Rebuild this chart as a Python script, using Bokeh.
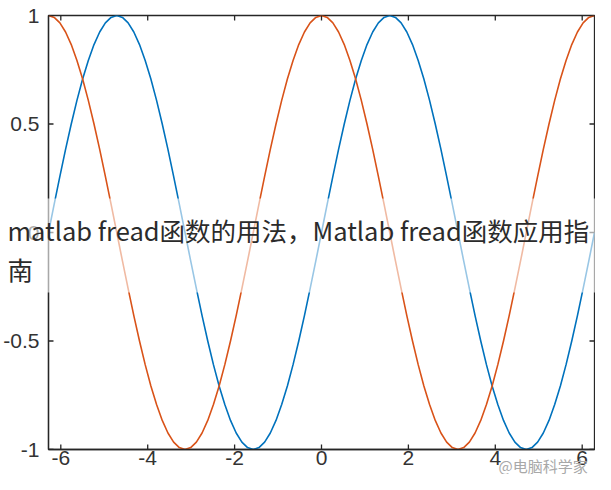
from bokeh.plotting import figure
from bokeh.models import Range1d, FixedTicker, Label, BoxAnnotation, GridBox
from bokeh.embed import file_html
from bokeh.resources import INLINE
import math

# ---- data ----
angles_deg = [-360, -352.5, -345, -337.5, -330, -322.5, -315, -307.5, -300, -292.5, -285, -277.5,
              -270, -262.5, -255, -247.5, -240, -232.5, -225, -217.5, -210, -202.5, -195, -187.5,
              -180, -172.5, -165, -157.5, -150, -142.5, -135, -127.5, -120, -112.5, -105, -97.5,
              -90, -82.5, -75, -67.5, -60, -52.5, -45, -37.5, -30, -22.5, -15, -7.5,
              0, 7.5, 15, 22.5, 30, 37.5, 45, 52.5, 60, 67.5, 75, 82.5,
              90, 97.5, 105, 112.5, 120, 127.5, 135, 142.5, 150, 157.5, 165, 172.5,
              180, 187.5, 195, 202.5, 210, 217.5, 225, 232.5, 240, 247.5, 255, 262.5,
              270, 277.5, 285, 292.5, 300, 307.5, 315, 322.5, 330, 337.5, 345, 352.5, 360]
sin_values = [0, 0.131, 0.259, 0.383, 0.5, 0.609, 0.707, 0.793, 0.866, 0.924, 0.966, 0.991,
              1, 0.991, 0.966, 0.924, 0.866, 0.793, 0.707, 0.609, 0.5, 0.383, 0.259, 0.131,
              0, -0.131, -0.259, -0.383, -0.5, -0.609, -0.707, -0.793, -0.866, -0.924, -0.966, -0.991,
              -1, -0.991, -0.966, -0.924, -0.866, -0.793, -0.707, -0.609, -0.5, -0.383, -0.259, -0.131,
              0, 0.131, 0.259, 0.383, 0.5, 0.609, 0.707, 0.793, 0.866, 0.924, 0.966, 0.991,
              1, 0.991, 0.966, 0.924, 0.866, 0.793, 0.707, 0.609, 0.5, 0.383, 0.259, 0.131,
              0, -0.131, -0.259, -0.383, -0.5, -0.609, -0.707, -0.793, -0.866, -0.924, -0.966, -0.991,
              -1, -0.991, -0.966, -0.924, -0.866, -0.793, -0.707, -0.609, -0.5, -0.383, -0.259, -0.131, 0]
cos_values = [1, 0.991, 0.966, 0.924, 0.866, 0.793, 0.707, 0.609, 0.5, 0.383, 0.259, 0.131,
              0, -0.131, -0.259, -0.383, -0.5, -0.609, -0.707, -0.793, -0.866, -0.924, -0.966, -0.991,
              -1, -0.991, -0.966, -0.924, -0.866, -0.793, -0.707, -0.609, -0.5, -0.383, -0.259, -0.131,
              0, 0.131, 0.259, 0.383, 0.5, 0.609, 0.707, 0.793, 0.866, 0.924, 0.966, 0.991,
              1, 0.991, 0.966, 0.924, 0.866, 0.793, 0.707, 0.609, 0.5, 0.383, 0.259, 0.131,
              0, -0.131, -0.259, -0.383, -0.5, -0.609, -0.707, -0.793, -0.866, -0.924, -0.966, -0.991,
              -1, -0.991, -0.966, -0.924, -0.866, -0.793, -0.707, -0.609, -0.5, -0.383, -0.259, -0.131,
              0, 0.131, 0.259, 0.383, 0.5, 0.609, 0.707, 0.793, 0.866, 0.924, 0.966, 0.991, 1]
x_tick_values = [-6, -4, -2, 0, 2, 4, 6]
x_tick_labels = ["-6", "-4", "-2", "0", "2", "4", "6"]
y_tick_values = [-1, -0.5, 0, 0.5, 1]
y_tick_labels = ["-1", "-0.5", "0", "0.5", "1"]
caption_line1 = "matlab fread函数的用法，Matlab fread函数应用指"
caption_line2 = "南"
watermark = "@电脑科学家"

x_values = [d * math.pi / 180 for d in angles_deg]
x_min, x_max = x_values[0], x_values[-1]
y_min, y_max = y_tick_values[0], y_tick_values[-1]

AX = "#262626"
W, H = 595, 474
B_LEFT, B_RIGHT, B_TOP, B_BOTTOM = 47, 1, 15, 25
TICK_PX = 5

# ---------------- main chart ----------------
p = figure(width=W, height=H, output_backend="svg", toolbar_location=None,
           x_range=Range1d(x_min, x_max), y_range=Range1d(y_min, y_max),
           min_border_left=B_LEFT, min_border_right=B_RIGHT,
           min_border_top=B_TOP, min_border_bottom=B_BOTTOM,
           background_fill_color="white", border_fill_color="white")
p.outline_line_color = AX
p.outline_line_width = 1.3
p.grid.visible = False

p.line(x_values, sin_values, line_color="#0072BD", line_width=1.6)
p.line(x_values, cos_values, line_color="#D95319", line_width=1.6)

# inward tick marks on all four sides (MATLAB box style)
tx = (x_max - x_min) * TICK_PX / (W - B_LEFT - B_RIGHT)
ty = (y_max - y_min) * TICK_PX / (H - B_TOP - B_BOTTOM)
nx, ny = len(x_tick_values), len(y_tick_values)
p.segment(x0=x_tick_values, y0=[y_min] * nx, x1=x_tick_values, y1=[y_min + ty] * nx,
          line_color=AX, line_width=1.3)
p.segment(x0=x_tick_values, y0=[y_max] * nx, x1=x_tick_values, y1=[y_max - ty] * nx,
          line_color=AX, line_width=1.3)
p.segment(x0=[x_min] * ny, y0=y_tick_values, x1=[x_min + tx] * ny, y1=y_tick_values,
          line_color=AX, line_width=1.3)
p.segment(x0=[x_max] * ny, y0=y_tick_values, x1=[x_max - tx] * ny, y1=y_tick_values,
          line_color=AX, line_width=1.3)

def style(axis, ticks, labels, standoff):
    axis.ticker = FixedTicker(ticks=ticks)
    axis.major_label_overrides = {t: l for t, l in zip(ticks, labels)}
    axis.axis_line_color = AX
    axis.axis_line_width = 1.3
    axis.major_tick_line_color = None
    axis.minor_tick_line_color = None
    axis.major_tick_in = 0
    axis.major_tick_out = 0
    axis.major_label_text_font = "Liberation Sans"
    axis.major_label_text_font_size = "21px"
    axis.major_label_text_color = "#333333"
    axis.major_label_standoff = standoff

style(p.xaxis[0], x_tick_values, x_tick_labels, 1)
style(p.yaxis[0], y_tick_values, y_tick_labels, 9)

# ---------------- transparent overlay for caption / watermark ----------------
ov = figure(width=W, height=H, output_backend="svg", toolbar_location=None,
            x_range=Range1d(0, W), y_range=Range1d(H, 0),
            x_axis_type=None, y_axis_type=None,
            min_border_left=0, min_border_right=0, min_border_top=0, min_border_bottom=0,
            background_fill_color=None, border_fill_color=None)
ov.outline_line_color = None
ov.grid.visible = False
try:
    ov.frame_align = False
except Exception:
    pass

ov.add_layout(BoxAnnotation(top=198, bottom=292, fill_color="white", fill_alpha=0.6,
                            line_color=None))
ov.add_layout(Label(x=7, y=229, text=caption_line1,
                    text_font="Noto Sans CJK SC", text_font_size="25.5px",
                    text_color="#2b2b2b", text_baseline="middle"))
ov.add_layout(Label(x=7, y=268, text=caption_line2,
                    text_font="Noto Sans CJK SC", text_font_size="25.5px",
                    text_color="#2b2b2b", text_baseline="middle"))
ov.add_layout(Label(x=498, y=465, text=watermark,
                    text_font="Noto Sans CJK SC", text_font_size="15px",
                    text_color="#a8a8a8", text_baseline="middle"))

layout = GridBox(children=[(p, 0, 0), (ov, 0, 0)])

open("out.html", "w").write(file_html(layout, INLINE))
